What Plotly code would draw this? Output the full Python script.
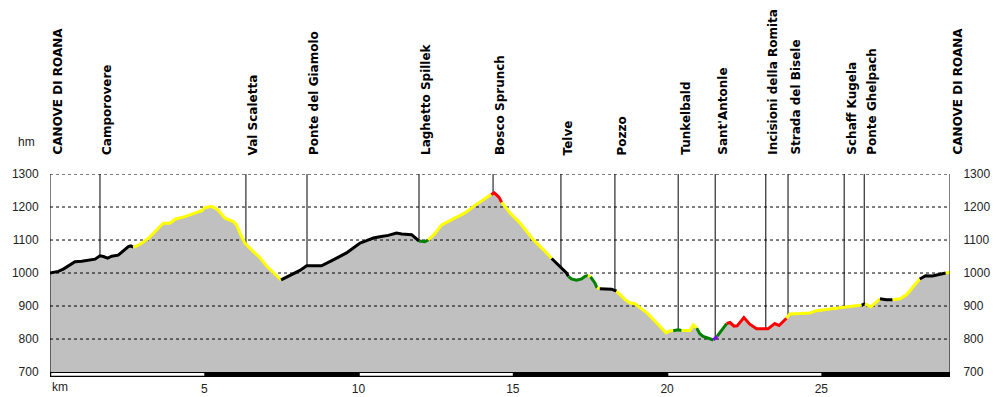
import plotly.graph_objects as go

# ---------------- data ----------------
km = [0.00, 0.27, 0.43, 0.59, 0.81, 1.03, 1.24, 1.46, 1.62, 1.73, 1.87, 2.00, 2.21, 2.38, 2.54, 2.62,
      2.70, 2.92, 3.19, 3.40, 3.67, 3.89, 4.05, 4.37, 4.59, 4.81, 4.92, 5.02, 5.24, 5.45, 5.67, 5.94,
      6.05, 6.16, 6.32, 6.59, 6.80, 7.02, 7.24,
      7.49, 7.78, 8.10, 8.32, 8.80, 9.18, 9.40, 9.61, 9.83, 10.05, 10.26, 10.48, 10.69, 10.96, 11.23,
      11.40, 11.72, 11.88,
      11.96, 12.15,
      12.26, 12.48, 12.69, 13.02, 13.45, 13.77, 14.10,
      14.30, 14.40, 14.55,
      14.64, 14.91, 15.23, 15.66, 15.99,
      16.26, 16.53, 16.74,
      16.80, 16.90, 17.06, 17.23, 17.34,
      17.44, 17.52, 17.66, 17.73,
      17.82, 18.20,
      18.36, 18.63, 18.79, 18.96, 19.12, 19.34, 19.55, 19.77, 19.97, 20.09,
      20.20, 20.36,
      20.47, 20.74, 20.85,
      20.96, 21.06, 21.17, 21.39,
      21.50,
      21.62, 21.77,
      21.93, 22.04, 22.17, 22.27, 22.49, 22.68, 22.90, 23.27, 23.49, 23.63,
      23.87, 23.98, 24.30, 24.63, 24.84, 25.38, 25.92,
      26.31,
      26.42, 26.60,
      26.90, 27.11,
      27.31, 27.55, 27.76, 27.98,
      28.19, 28.38, 28.60, 28.80,
      29.03, 29.17]

elev = [1000, 1005, 1012, 1022, 1034, 1036, 1038, 1042, 1052, 1050, 1045, 1051, 1054, 1068, 1080, 1082,
        1078, 1087, 1105, 1125, 1151, 1151, 1163, 1171, 1178, 1186, 1189, 1198, 1202, 1191, 1166, 1156,
        1145, 1120, 1090, 1065, 1047, 1021, 1000,
        979, 993, 1008, 1022, 1022, 1040, 1050, 1061, 1076, 1091, 1098, 1106, 1110, 1114, 1121,
        1118, 1116, 1102,
        1097, 1095,
        1100, 1120, 1146, 1162, 1182, 1205, 1226,
        1238, 1243, 1230,
        1214, 1182, 1152, 1101, 1071,
        1044, 1019, 1000,
        990, 982, 978, 982, 990,
        993, 988, 970, 955,
        952, 951,
        945, 920, 910, 907, 895, 880, 860, 838, 819, 825,
        825, 828,
        826, 826, 843,
        833, 816, 808, 801,
        797,
        808, 826,
        847, 850, 839, 840, 865, 845, 831, 831, 847, 841,
        863, 876, 877, 879, 886, 892, 898,
        903,
        907, 897,
        922, 919,
        919, 922, 934, 958,
        982, 992, 991, 995,
        1000, 1002]

# colour class of the path segment that starts at each point
surface = (["K"] * 16 + ["Y"] * 23 + ["K"] * 18 + ["G"] * 2 + ["Y"] * 7 + ["R"] * 3 + ["Y"] * 5 +
           ["K"] * 3 + ["G"] * 5 + ["Y"] + ["G"] * 2 + ["Y"] + ["K"] * 2 + ["Y"] * 10 + ["G"] * 2 +
           ["Y"] * 3 + ["G"] * 4 + ["P"] + ["G"] * 2 + ["R"] * 10 + ["Y"] * 7 + ["K"] + ["Y"] * 2 +
           ["K"] * 2 + ["Y"] * 4 + ["K"] * 4 + ["Y"] * 2)

surface_colors = {"K": "#000000", "Y": "#ffff00", "G": "#008000", "R": "#ff0000", "P": "#8000ff"}

places = ["CANOVE DI ROANA", "Camporovere", "Val Scaletta", "Ponte del Giamolo", "Laghetto Spillek",
          "Bosco Sprunch", "Telve", "Pozzo", "Tunkelbald", "Sant'Antonle", "Incisioni della Romita",
          "Strada del Bisele", "Schaff Kugela", "Ponte Ghelpach", "CANOVE DI ROANA"]
place_km = [0.0, 1.62, 6.35, 8.33, 11.96, 14.36, 16.56, 18.31, 20.36, 21.56, 23.20, 23.92, 25.74, 26.39, 29.17]

y_ticks = [700, 800, 900, 1000, 1100, 1200, 1300]
x_ticks = [5, 10, 15, 20, 25]
x_tick_labels = ["5", "10", "15", "20", "25"]

# ---------------- figure ----------------
total_km = km[-1]
y_bottom = 685
y_top = 1300

fig = go.Figure()

# gray area under the profile
fig.add_trace(go.Scatter(x=km, y=elev, mode="lines", line=dict(width=0, color="#c0c0c0"),
                         fill="tozeroy", fillcolor="#c0c0c0", hoverinfo="skip"))

# dashed grid lines drawn over the fill
for v in y_ticks[1:]:
    fig.add_trace(go.Scatter(x=[0, total_km], y=[v, v], mode="lines",
                             line=dict(color="black", width=1, dash="3px,3px"), hoverinfo="skip"))

# coloured profile line, one trace per run of equal surface
start = 0
n = len(km)
for i in range(1, n):
    if i == n - 1 or surface[i] != surface[start]:
        fig.add_trace(go.Scatter(x=km[start:i + 1], y=elev[start:i + 1], mode="lines",
                                 line=dict(color=surface_colors[surface[start]], width=3),
                                 hoverinfo="skip"))
        start = i

# invisible trace for the right-hand axis
fig.add_trace(go.Scatter(x=[km[0]], y=[elev[0]], yaxis="y2", mode="markers",
                         marker=dict(opacity=0), hoverinfo="skip"))

shapes = []
annotations = []
# place markers
for j, (name, pk) in enumerate(zip(places, place_km)):
    edge = j == 0 or j == len(places) - 1
    shapes.append(dict(type="line", xref="x", yref="y", x0=pk, x1=pk, y0=y_bottom, y1=y_top,
                       line=dict(color="black", width=1), layer="above" if edge else "below"))
    annotations.append(dict(text=name, x=pk, xref="x", y=1, yref="paper", yshift=17,
                            xanchor="center", yanchor="bottom", xshift=7, textangle=-90,
                            showarrow=False,
                            font=dict(family="DejaVu Sans", size=12, color="black", weight="bold")))

# km scale bar
shapes.append(dict(type="rect", xref="x", yref="y", x0=0, x1=total_km, y0=y_bottom, y1=700,
                   fillcolor="black", line=dict(width=0), layer="above"))
for a in range(0, int(total_km) + 1, 10):
    shapes.append(dict(type="rect", xref="x", yref="y", x0=a + 0.04, x1=min(a + 5, total_km),
                       y0=y_bottom + 3.5, y1=700 - 3, fillcolor="white", line=dict(width=0),
                       layer="above"))

annotations.append(dict(text="hm", x=-0.026, xref="paper", y=1.16, yref="paper", showarrow=False,
                        xanchor="center", yanchor="middle",
                        font=dict(family="Arial", size=12, color="#222")))
annotations.append(dict(text="km", x=0, xref="paper", y=-0.05, yref="paper", showarrow=False,
                        xanchor="left", yanchor="middle",
                        font=dict(family="Arial", size=12, color="#222")))

tickfont = dict(family="Arial", size=12, color="#222")
fig.update_layout(
    width=1000, height=397,
    margin=dict(l=50, r=50, t=174, b=20, pad=0, autoexpand=False),
    paper_bgcolor="white", plot_bgcolor="white",
    showlegend=False,
    xaxis=dict(range=[0, total_km], showgrid=False, zeroline=False, showline=False, automargin=False,
               tickvals=x_ticks, ticktext=x_tick_labels, ticks="outside", ticklen=1,
               tickcolor="rgba(0,0,0,0)", tickfont=tickfont, fixedrange=True),
    yaxis=dict(range=[y_bottom, y_top], showgrid=False, zeroline=False, showline=False, automargin=False,
               tickvals=y_ticks, ticks="outside", ticklen=8, tickcolor="rgba(0,0,0,0)",
               tickfont=tickfont, fixedrange=True),
    yaxis2=dict(range=[y_bottom, y_top], overlaying="y", side="right", anchor="x", automargin=False,
                showgrid=False, zeroline=False, showline=False,
                tickvals=y_ticks, ticks="outside", ticklen=10, tickcolor="rgba(0,0,0,0)",
                tickfont=tickfont, fixedrange=True),
    shapes=shapes,
    annotations=annotations,
)

fig.write_html("out.html", config={"displayModeBar": False, "staticPlot": True},
               post_script="document.body.style.margin='0';document.body.style.overflow='hidden';")
